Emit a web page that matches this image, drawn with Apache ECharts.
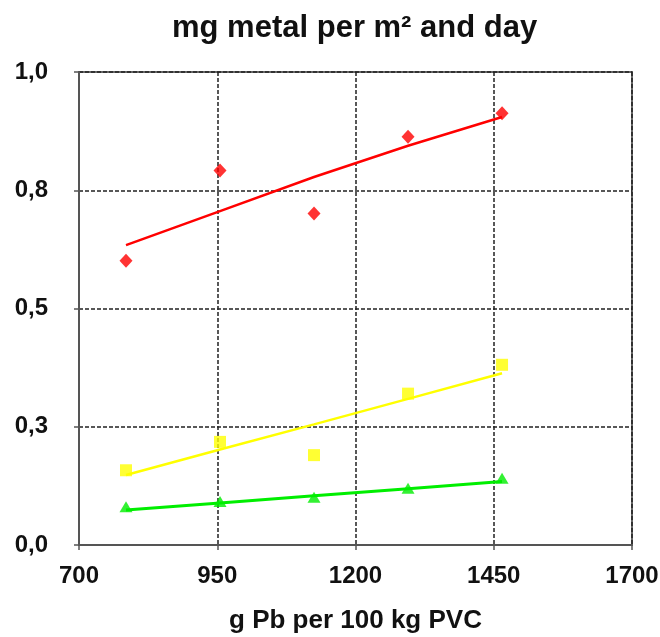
<!DOCTYPE html>
<html>
<head>
<meta charset="utf-8">
<script src="https://cdn.jsdelivr.net/npm/echarts@6/dist/echarts.min.js"></script>
<style>
  html, body { margin: 0; padding: 0; background: #ffffff; }
  #chart { width: 660px; height: 637px; }
</style>
</head>
<body>
<div id="chart"></div>
<script>
// Lead content of PVC (g Pb per 100 kg PVC) for the five samples
const leadContent = [785, 955, 1125, 1295, 1465];

// Measured metal release, mg per m² and day
const redValues    = [0.601, 0.792, 0.701, 0.863, 0.913];
const yellowValues = [0.158, 0.218, 0.190, 0.320, 0.381];
const greenValues  = [0.081, 0.092, 0.101, 0.120, 0.141];

// Fitted trend values at the same lead contents
const redTrend    = [0.634, 0.706, 0.778, 0.844, 0.905];
const yellowTrend = [0.148, 0.202, 0.255, 0.309, 0.363];
const greenTrend  = [0.074, 0.089, 0.104, 0.119, 0.134];

// Axis tick labels
const xTickLabels = ['700', '950', '1200', '1450', '1700'];
const yTickLabels = ['0,0', '0,3', '0,5', '0,8', '1,0'];

const FONT = '"Liberation Sans", Arial, Helvetica, sans-serif';

function pairs(xs, ys) {
  return xs.map((x, i) => [x, ys[i]]);
}

const chart = echarts.init(document.getElementById('chart'), null, { renderer: 'canvas' });

const textStyle = { fontFamily: FONT, fontWeight: 'bold', color: '#111' };

chart.setOption({
  animation: false,
  backgroundColor: '#ffffff',
  title: {
    text: 'mg metal per m² and day',
    left: 172,
    top: 13,
    padding: 0,
    textStyle: { fontFamily: FONT, fontWeight: 'bold', fontSize: 31, color: '#111' }
  },
  grid: {
    left: 79,
    right: 28,
    top: 72,
    bottom: 92,
    outerBoundsMode: 'none',
    containLabel: false,
    show: true,
    borderColor: '#666',
    borderWidth: 2,
    backgroundColor: 'transparent'
  },
  xAxis: {
    type: 'value',
    min: 700,
    max: 1700,
    interval: 250,
    name: 'g Pb per 100 kg PVC',
    nameLocation: 'middle',
    nameGap: 63,
    nameTextStyle: Object.assign({}, textStyle, { fontSize: 26 }),
    axisLine: { show: true, lineStyle: { color: '#555', width: 2 } },
    axisTick: { show: true, inside: false, length: 5, lineStyle: { color: '#555', width: 1.5 } },
    axisLabel: Object.assign({}, textStyle, {
      fontSize: 24,
      margin: 19,
      formatter: (v) => xTickLabels[Math.round((v - 700) / 250)]
    }),
    splitLine: { show: true, lineStyle: { color: '#222', width: 1.5, type: [4, 2] } }
  },
  yAxis: {
    type: 'value',
    min: 0,
    max: 1,
    interval: 0.25,
    axisLine: { show: true, lineStyle: { color: '#555', width: 2 } },
    axisTick: { show: true, inside: false, length: 5, lineStyle: { color: '#555', width: 1.5 } },
    axisLabel: Object.assign({}, textStyle, {
      fontSize: 24,
      margin: 31,
      formatter: (v) => yTickLabels[Math.round(v / 0.25)]
    }),
    splitLine: { show: true, lineStyle: { color: '#222', width: 1.5, type: [4, 2] } }
  },
  series: [
    {
      type: 'line',
      data: pairs(leadContent, redTrend),
      showSymbol: false,
      lineStyle: { color: '#ff0000', width: 2.5 },
      z: 3
    },
    {
      type: 'line',
      data: pairs(leadContent, yellowTrend),
      showSymbol: false,
      lineStyle: { color: '#ffff00', width: 2.5 },
      z: 3
    },
    {
      type: 'line',
      data: pairs(leadContent, greenTrend),
      showSymbol: false,
      lineStyle: { color: '#00ee00', width: 3 },
      z: 3
    },
    {
      type: 'scatter',
      data: pairs(leadContent, redValues),
      symbol: 'diamond',
      symbolSize: [13, 14],
      itemStyle: { color: '#ff0000' },
      z: 4
    },
    {
      type: 'scatter',
      data: pairs(leadContent, yellowValues),
      symbol: 'rect',
      symbolSize: [12, 12],
      itemStyle: { color: '#ffff00' },
      z: 4
    },
    {
      type: 'scatter',
      data: pairs(leadContent, greenValues),
      symbol: 'triangle',
      symbolSize: [13, 11],
      itemStyle: { color: '#00ee00' },
      z: 4
    }
  ]
});
</script>
</body>
</html>
